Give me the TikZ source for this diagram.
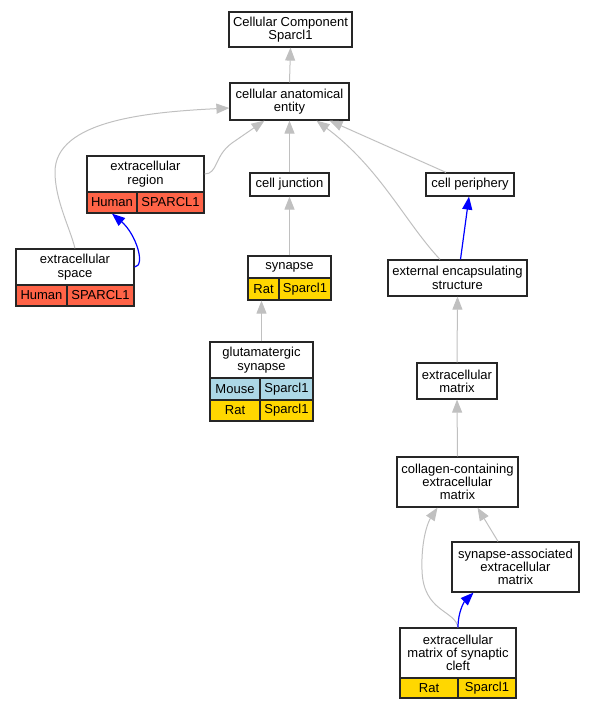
\documentclass[tikz,border=0pt]{standalone}
\usepackage{fontspec}
\setmainfont{Liberation Sans}
\usetikzlibrary{arrows.meta}
\definecolor{humancol}{HTML}{FF6347}
\definecolor{ratcol}{HTML}{FFD700}
\definecolor{mousecol}{HTML}{ADD8E6}
\definecolor{isagray}{HTML}{C0C0C0}
\newcommand\gofont{\fontsize{13}{13.3}\selectfont}

\begin{document}
\begin{tikzpicture}[x=1pt,y=-1pt,
    term/.style={draw=black!85,line width=1.2pt,fill=white,inner sep=0pt,align=center,font=\gofont},
    human/.style={term,fill=humancol,minimum height=21pt},
    rat/.style={term,fill=ratcol,minimum height=21pt},
    mouse/.style={term,fill=mousecol,minimum height=22pt},
    isa/.style={draw=isagray,line width=1pt,-{Triangle[length=13pt,width=10pt]}},
    partof/.style={draw=blue,line width=1.2pt,-{Triangle[length=13pt,width=10pt]}}]
	   \useasboundingbox (0,0) rectangle (593,709);
	   % terms
	   \node (cc) at (290.5,29.5) [term,minimum width=123pt,minimum height=35pt] {Cellular Component\\Sparcl1};
	   \node (cae) at (289.5,101.5) [term,minimum width=119pt,minimum height=37pt] {cellular anatomical\\entity};
	   \node (er) at (145.5,174) [term,minimum width=117pt,minimum height=36pt] {extracellular\\region};
	   \node (erA) at (112,202.5) [human,minimum width=50pt] {Human};
	   \node (erB) at (170.5,202.5) [human,minimum width=67pt] {SPARCL1};
	   \node (cj) at (289.5,184.5) [term,minimum width=79pt,minimum height=23pt] {cell junction};
	   \node (cp) at (470,184.5) [term,minimum width=88pt,minimum height=23pt] {cell periphery};
	   \node (es) at (75,267) [term,minimum width=118pt,minimum height=36pt] {extracellular\\space};
	   \node (esA) at (41.5,295.5) [human,minimum width=51pt] {Human};
	   \node (esB) at (100.5,295.5) [human,minimum width=67pt] {SPARCL1};
	   \node (syn) at (289.5,267) [term,minimum width=83pt,minimum height=22pt] {synapse};
	   \node (synA) at (263.5,289) [rat,minimum width=31pt,minimum height=22pt] {Rat};
	   \node (synB) at (305,289) [rat,minimum width=52pt,minimum height=22pt] {Sparcl1};
	   \node (ees) at (457.5,278) [term,minimum width=139pt,minimum height=36pt] {external encapsulating\\structure};
	   \node (gs) at (261.5,360) [term,minimum width=103pt,minimum height=36pt] {glutamatergic\\synapse};
	   \node (gsA) at (235,389) [mouse,minimum width=50pt] {Mouse};
	   \node (gsB) at (286.5,389) [mouse,minimum width=53pt] {Sparcl1};
	   \node (gsC) at (235,410.5) [rat,minimum width=50pt] {Rat};
	   \node (gsD) at (286.5,410.5) [rat,minimum width=53pt] {Sparcl1};
	   \node (ecm) at (457,381) [term,minimum width=80pt,minimum height=36pt] {extracellular\\matrix};
	   \node (col) at (457.5,482) [term,minimum width=121pt,minimum height=50pt] {collagen-containing\\extracellular\\matrix};
	   \node (sae) at (515.5,567) [term,minimum width=127pt,minimum height=50pt] {synapse-associated\\extracellular\\matrix};
	   \node (cleft) at (458,653) [term,minimum width=116pt,minimum height=50pt] {extracellular\\matrix of synaptic\\cleft};
	   \node (cleftA) at (429,688) [rat,minimum width=58pt,minimum height=20pt] {Rat};
	   \node (cleftB) at (487,688) [rat,minimum width=58pt,minimum height=20pt] {Sparcl1};
	   % is_a
	   \foreach \a/\b in {cae/cc,cj/cae,syn/cj,ecm/ees,col/ecm} {
	     \draw [isa] (\a.north) -- (\b.south);
	   }
	   \draw [isa] (gs.north) -- ([xshift=-2pt]synA.south);
	   \draw [isa] (er.east) .. controls (218,174) and (214,156) .. (232,143) -- ([xshift=-25pt]cae.south);
	   \draw [isa] (es.north) .. controls (70,228) and (55,200) .. (55,172)
	     .. controls (55,120) and (150,112) .. ([yshift=-6.5pt]cae.west);
	   \draw [isa] ([xshift=-24pt]cp.north) -- ([xshift=40pt]cae.south);
	   \draw [isa] ([xshift=-17.5pt]ees.north) .. controls (405,222) and (380,168) .. ([xshift=27pt]cae.south);
	   \draw [isa] ([xshift=-17.5pt]sae.north) -- ([xshift=20pt]col.south);
	   \draw [isa] (cleft.north) .. controls (455,610) and (423,612) .. (422,570)
	     .. controls (421,540) and (428,522) .. ([xshift=-20pt]col.south);
	   % part_of
	   \draw [partof] ([xshift=3pt]ees.north) -- ([xshift=-1pt]cp.south);
	   \draw [partof] (es.east) .. controls (146,266) and (136,234) .. (erA.south);
	   \draw [partof] (cleft.north) .. controls (458,612) and (464,602) .. ([xshift=-42pt]sae.south);
\end{tikzpicture}
\end{document}
